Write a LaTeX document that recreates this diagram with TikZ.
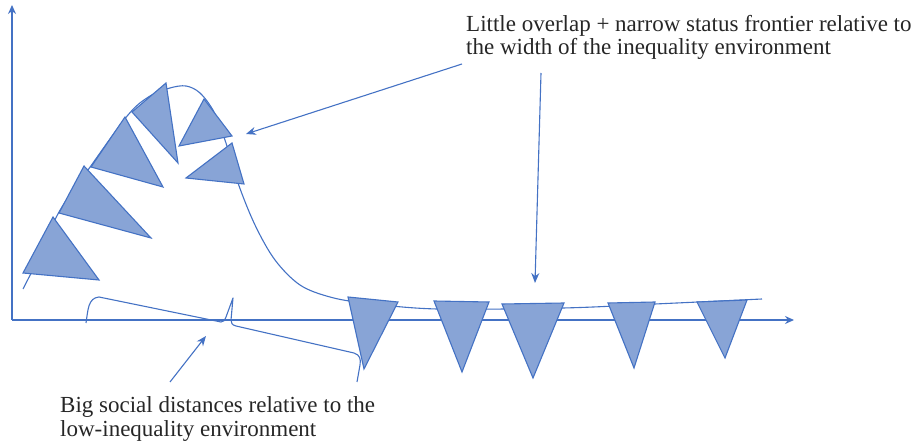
\documentclass[tikz,border=0pt]{standalone}
\usepackage{fontspec}
\setmainfont{Liberation Serif}
\usetikzlibrary{arrows.meta}
\definecolor{lineblue}{HTML}{4472C4}
\definecolor{fillblue}{HTML}{88A4D6}
\tikzset{
  axisline/.style={draw=lineblue, line width=1.3pt, -{Stealth[length=9pt,width=8pt]}},
  pointer/.style={draw=lineblue, line width=1.1pt, -{Stealth[length=10pt,width=8pt]}},
  thin curve/.style={draw=lineblue, line width=1.1pt, line join=round},
  flag/.style={draw=lineblue, fill=fillblue, line width=1.1pt, line join=miter},
  label/.style={align=left, inner sep=0pt, font=\fontsize{23}{23.5}\selectfont, text=black!85}
}
\begin{document}
\begin{tikzpicture}[x=1pt,y=-1pt]
\useasboundingbox (0,0) rectangle (918,443);
% axes
\coordinate (O) at (12,320);
\coordinate (Ytop) at (12,5);
\coordinate (Xend) at (794,320);
\draw[axisline] (O) -- (Ytop);
\draw[axisline] (O) -- (Xend);
% status curve
\draw[thin curve] plot[smooth, tension=0.55] coordinates {
 (23,289) (40,255) (59,212) (88,170) (128,115) (150,96) (170,88) (186,86) (200,93)
 (214,112) (226,143) (238,183) (255,225) (275,260) (300,285) (330,297) (365,303)
 (437,309) (563,308) (655,304) (762,299)};
% left/peak triangles
\draw[flag] (23,273) -- (53,217) -- (99,280) -- cycle;
\draw[flag] (59,213) -- (84,166) -- (151,238) -- cycle;
\draw[flag] (91,167) -- (125,117) -- (163,187) -- cycle;
\draw[flag] (132,112) -- (166,83) -- (178,163) -- cycle;
\draw[flag] (179,146) -- (204,99) -- (232,136) -- cycle;
\draw[flag] (186,178) -- (232,143) -- (244,184) -- cycle;
% bottom triangles
\draw[flag] (348,297) -- (398,302) -- (364,369) -- cycle;
\draw[flag] (434,301) -- (489,302) -- (462,372) -- cycle;
\draw[flag] (502,304) -- (564,303) -- (533,378) -- cycle;
\draw[flag] (608,303) -- (655,302) -- (634,368) -- cycle;
\draw[flag] (697,302) -- (747,300) -- (725,358) -- cycle;
% brace
\draw[thin curve] (86,323) .. controls (88,310) and (88,298) .. (99,297)
  -- (221,322) .. controls (224,322) and (225,320) .. (226,317)
  -- (233,298) -- (231,320) .. controls (231,323) and (232,325) .. (236,326)
  -- (354,353) .. controls (360,355) and (361,359) .. (360,365) -- (357,382);
% labels
\node[label, anchor=base west] (top) at (466,55) {Little overlap + narrow status frontier relative to\\the width of the inequality environment};
\node[label, anchor=base west] (bottom) at (60,436) {Big social distances relative to the\\low-inequality environment};
\coordinate (a1s) at (462,64);
\coordinate (a1e) at (246,134);
\coordinate (a2s) at (541,73);
\coordinate (a2e) at (535,283);
\coordinate (a3s) at (170,382);
\coordinate (a3e) at (206,336);
\draw[pointer] (a1s) -- (a1e);
\draw[pointer] (a2s) -- (a2e);
\draw[pointer] (a3s) -- (a3e);
\end{tikzpicture}
\end{document}
